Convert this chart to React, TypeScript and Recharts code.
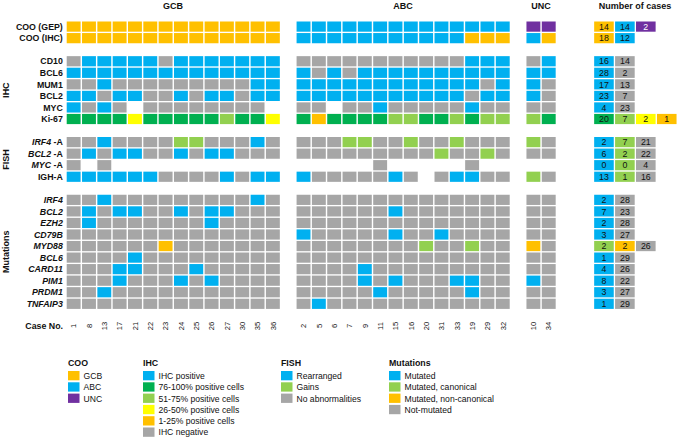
import React from 'react';
import { ScatterChart, Scatter, XAxis, YAxis } from 'recharts';

const FONT = '"Liberation Sans", Arial, Helvetica, sans-serif';

const gcbCases = [1, 8, 13, 17, 21, 22, 23, 24, 25, 26, 27, 30, 35, 36];
const abcCases = [2, 5, 6, 7, 9, 11, 15, 16, 20, 31, 33, 19, 29, 32];
const uncCases = [10, 34];

// one letter per case, in case order: [GCB, ABC, UNC]; '.' = not available
// G = GCB, A = ABC, U = UNC, P = positive / rearranged / mutated, N = negative / no abnormality / not mutated
// D = 76-100%, L = 51-75% / gains / canonical, Y = 26-50%, O = 1-25% / non-canonical
const cooRows = [
  { name: 'COO (GEP)', cells: ['GGGGGGGGGGGGGG', 'AAAAAAAAAAAAAA', 'UU'], counts: [[14, 'G'], [14, 'A'], [2, 'U']] },
  { name: 'COO (IHC)', cells: ['GGGGGGGGGGGGGG', 'AAAAAAAAAAAGGG', 'AG'], counts: [[18, 'G'], [12, 'A']] },
];

const ihcRows = [
  { name: 'CD10', cells: ['NPPPPPNPPPPPPP', 'NNNNNNNNNNNPPP', 'NP'], counts: [[16, 'P'], [14, 'N']] },
  { name: 'BCL6', cells: ['PPPPPPPPPPPPPP', 'PNPNPPPPPPPPPP', 'PP'], counts: [[28, 'P'], [2, 'N']] },
  { name: 'MUM1', cells: ['NNPNNNNNNNNNPP', 'PPPPPPPPPPPPNP', 'PN'], counts: [[17, 'P'], [13, 'N']] },
  { name: 'BCL2', cells: ['PPNPPNNPNPPNPP', 'PPPPPPPPPPPNPP', 'PN'], counts: [[23, 'P'], [7, 'N']] },
  { name: 'MYC', cells: ['PNPN.NNNNNNNN.', 'NN.NNPNNNNNPNN', 'NN'], counts: [[4, 'P'], [23, 'N']] },
  { name: 'Ki-67', cells: ['DDDDYDDDDDLDDY', 'DODDDDLLDDLDLL', 'LD'], counts: [[20, 'D'], [7, 'L'], [2, 'Y'], [1, 'O']] },
];

const fishRows = [
  { name: 'IRF4', tail: '\u00A0-A', italic: true, cells: ['NNPNNNNLLNNNPN', 'NNNLLNNLNNLNNN', 'LN'], counts: [[2, 'P'], [7, 'L'], [21, 'N']] },
  { name: 'BCL2', tail: '\u00A0-A', italic: true, cells: ['NPNPPNNPNPPNNN', 'NNNNNNNNNLNNLN', 'NN'], counts: [[6, 'P'], [2, 'L'], [22, 'N']] },
  { name: 'MYC', tail: '\u00A0-A', italic: true, cells: ['N.N...........', '.....N.....N..', '..'], counts: [[0, 'P'], [0, 'L'], [4, 'N']] },
  { name: 'IGH-A', cells: ['PPPPPPNNNNPNPP', 'PNNNNNPN.NPPNN', 'LN'], counts: [[13, 'P'], [1, 'L'], [16, 'N']] },
];

const mutationRows = [
  { name: 'IRF4', italic: true, cells: ['NNPNNNNNNNNNPN', 'NNNNNNNNNNNNNN', 'NN'], counts: [[2, 'P'], [28, 'N']] },
  { name: 'BCL2', italic: true, cells: ['NPNPPNNPNPPNNN', 'NNNNNNPNNNNNNN', 'NN'], counts: [[7, 'P'], [23, 'N']] },
  { name: 'EZH2', italic: true, cells: ['NPNNNNNNNPNNNN', 'NNNNNNNNNNNNNN', 'NN'], counts: [[2, 'P'], [28, 'N']] },
  { name: 'CD79B', italic: true, cells: ['NNNNNNNNNNNNNN', 'PNNNNNPNNPNNNN', 'NN'], counts: [[3, 'P'], [27, 'N']] },
  { name: 'MYD88', italic: true, cells: ['NNNNNNONNNNNNN', 'NNNNNNNNLNNLNN', 'ON'], counts: [[2, 'L'], [2, 'O'], [26, 'N']] },
  { name: 'BCL6', italic: true, cells: ['NNNNPNNNNNNNNN', 'NNNNNNNNNNNNNN', 'NN'], counts: [[1, 'P'], [29, 'N']] },
  { name: 'CARD11', italic: true, cells: ['NNNPPNNNPNNNNN', 'NNNNPNNNNNNNNN', 'NN'], counts: [[4, 'P'], [26, 'N']] },
  { name: 'PIM1', italic: true, cells: ['NNNPNNNPNPNNNN', 'NNNNPNPNNNPPNN', 'PN'], counts: [[8, 'P'], [22, 'N']] },
  { name: 'PRDM1', italic: true, cells: ['NNPNNNNNNNNNNN', 'NNNNNPNNNNNPNN', 'NN'], counts: [[3, 'P'], [27, 'N']] },
  { name: 'TNFAIP3', italic: true, cells: ['NNNNNNNNNNNNNN', 'NPNNNNNNNNNNNN', 'NN'], counts: [[1, 'P'], [29, 'N']] },
];

const palette: Record<string, string> = {
  G: '#FFC000', A: '#00B0F0', U: '#7030A0',
  P: '#00B0F0', N: '#A6A6A6',
  D: '#00B050', L: '#92D050', Y: '#FFFF00', O: '#FFC000',
};

const sections = [
  { title: '', rows: cooRows },
  { title: 'IHC', rows: ihcRows },
  { title: 'FISH', rows: fishRows },
  { title: 'Mutations', rows: mutationRows },
];

const legendGroups = [
  { title: 'COO', items: [['GCB', 'G'], ['ABC', 'A'], ['UNC', 'U']] },
  { title: 'IHC', items: [['IHC positive', 'P'], ['76-100% positive cells', 'D'], ['51-75% positive cells', 'L'], ['26-50% positive cells', 'Y'], ['1-25% positive cells', 'O'], ['IHC negative', 'N']] },
  { title: 'FISH', items: [['Rearranged', 'P'], ['Gains', 'L'], ['No abnormalities', 'N']] },
  { title: 'Mutations', items: [['Mutated', 'P'], ['Mutated, canonical', 'L'], ['Mutated, non-canonical', 'O'], ['Not-mutated', 'N']] },
];
const legendX = [68, 143, 281, 389];

// layout: groups separated by one empty column, sections by one empty row
const groupCases = [gcbCases, abcCases, uncCases];
const groupStart = [0, 15, 30];
const caseByCol: Record<number, number> = {};
groupCases.forEach((cs, g) => cs.forEach((c, i) => { caseByCol[groupStart[g] + i] = c; }));
const caseTicks = Object.keys(caseByCol).map(Number);

type Row = { name: string; tail?: string; italic?: boolean; cells: string[]; counts: (number | string)[][] };
const rowByPos: Record<number, Row> = {};
const sectionSpan: { title: string; from: number; to: number }[] = [];
let pos = 0;
sections.forEach((s) => {
  const from = pos;
  s.rows.forEach((r) => { rowByPos[pos] = r as Row; pos += 1; });
  sectionSpan.push({ title: s.title, from, to: pos - 1 });
  pos += 1;
});
const rowTicks = Object.keys(rowByPos).map(Number);

const cellPoints: { x: number; y: number; code: string }[] = [];
const countPoints: { x: number; y: number; v: number; code: string }[] = [];
rowTicks.forEach((y) => {
  const r = rowByPos[y];
  r.cells.forEach((str, g) => str.split('').forEach((code, i) => {
    if (code !== '.') cellPoints.push({ x: groupStart[g] + i, y, code });
  }));
  r.counts.forEach(([v, code], k) => countPoints.push({ x: k, y, v: v as number, code: code as string }));
});

const CELL_W = 13.9;
const CELL_H = 10.2;
const BOX_W = 19.6;

const CellShape = (p: any) => (
  <rect x={p.cx - CELL_W / 2} y={p.cy - CELL_H / 2} width={CELL_W} height={CELL_H} fill={palette[p.payload.code]} />
);

const CountShape = (p: any) => (
  <g>
    <rect x={p.cx - BOX_W / 2} y={p.cy - CELL_H / 2} width={BOX_W} height={CELL_H} fill={palette[p.payload.code]} />
    <text x={p.cx} y={p.cy} dy="0.36em" textAnchor="middle" fontSize={8.8} fontFamily={FONT}
      fill={p.payload.code === 'U' ? '#fff' : '#111'}>{p.payload.v}</text>
  </g>
);

const RowTick = (p: any) => {
  const r = rowByPos[p.payload.value];
  if (!r) return null;
  return (
    <text x={62.8} y={p.y} dy="0.36em" textAnchor="end" fontSize={8.8} fontWeight="bold" fontFamily={FONT} fill="#111">
      <tspan fontStyle={r.italic ? 'italic' : 'normal'}>{r.name}</tspan>
      {r.tail ? <tspan>{r.tail}</tspan> : null}
    </text>
  );
};

const CaseTick = (p: any) => (
  <text transform={`translate(${p.x},326) rotate(-90)`} dy="0.36em" textAnchor="middle" fontSize={7.6} fontFamily={FONT} fill="#111">
    {caseByCol[p.payload.value]}
  </text>
);

export default function App() {
  return (
    <div style={{ position: 'fixed', left: 0, top: 0, width: 677, height: 437, background: '#fff' }}>
      <ScatterChart width={677} height={437} margin={{ top: 0, right: 0, bottom: 0, left: 0 }}>
        <XAxis xAxisId="main" type="number" dataKey="x" domain={[-0.63, 39.37]} allowDataOverflow
          ticks={caseTicks} interval={0} height={121} axisLine={false} tickLine={false} tick={<CaseTick />} />
        <XAxis xAxisId="cnt" type="number" dataKey="x" domain={[-25.8, 3.49]} allowDataOverflow hide />
        <YAxis type="number" dataKey="y" domain={[-2.303, 25.056]} reversed allowDataOverflow
          ticks={rowTicks} interval={0} width={64} axisLine={false} tickLine={false} tick={<RowTick />} />
        <Scatter xAxisId="main" data={cellPoints} shape={CellShape} isAnimationActive={false} />
        <Scatter xAxisId="cnt" data={countPoints} shape={CountShape} isAnimationActive={false} />
      </ScatterChart>
      <svg width={677} height={437} style={{ position: 'absolute', left: 0, top: 0, pointerEvents: 'none' }}
        fontFamily={FONT} fill="#111">
        <g fontSize={9} fontWeight="bold" textAnchor="middle">
          <text x={173} y={8.5}>GCB</text>
          <text x={403} y={8.5}>ABC</text>
          <text x={541} y={8.5}>UNC</text>
          <text x={635} y={8.5}>Number of cases</text>
        </g>
        {sectionSpan.filter((s) => s.title).map((s) => {
          const cy = 26.6 + 11.55 * (s.from + s.to) / 2;
          return (
            <text key={s.title} transform={`translate(5.5,${cy}) rotate(-90)`} dy="0.36em" textAnchor="middle"
              fontSize={9} fontWeight="bold">{s.title}</text>
          );
        })}
        <text x={63} y={326} dy="0.36em" textAnchor="end" fontSize={8.8} fontWeight="bold">Case No.</text>
        {legendGroups.map((g, gi) => (
          <g key={g.title}>
            <text x={legendX[gi]} y={366} fontSize={8.8} fontWeight="bold">{g.title}</text>
            {g.items.map(([label, code], k) => (
              <g key={label}>
                <rect x={legendX[gi]} y={371 + k * 11.3} width={11.5} height={9.3} fill={palette[code]} />
                <text x={legendX[gi] + 15.5} y={371 + k * 11.3 + 7.9} fontSize={8.6}>{label}</text>
              </g>
            ))}
          </g>
        ))}
      </svg>
    </div>
  );
}
